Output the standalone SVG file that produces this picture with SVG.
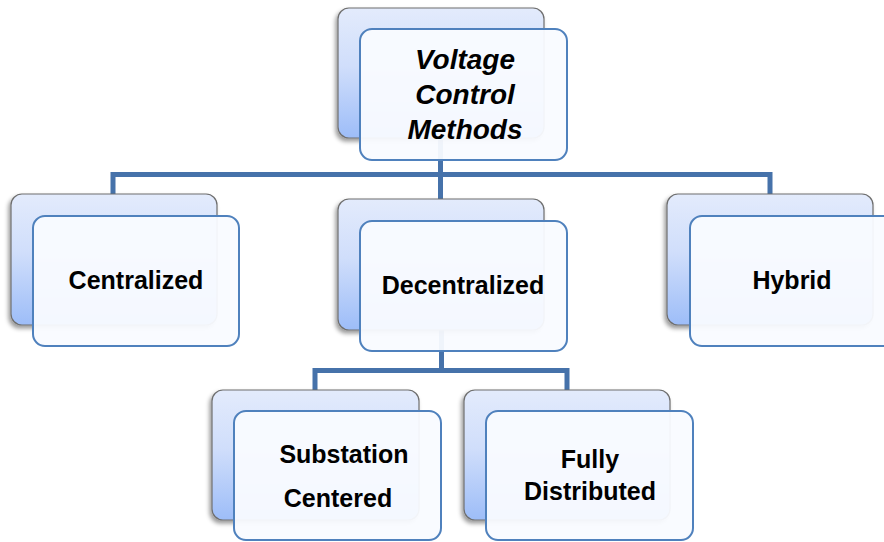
<svg xmlns="http://www.w3.org/2000/svg" width="884" height="542" viewBox="0 0 884 542">
  <defs>
    <linearGradient id="backFill" x1="0" y1="0" x2="0" y2="1">
      <stop offset="0" stop-color="#e3ebfc"/>
      <stop offset="0.45" stop-color="#d0defb"/>
      <stop offset="1" stop-color="#9dbdf8"/>
    </linearGradient>
    <filter id="shadow" x="-10%" y="-10%" width="120%" height="125%">
      <feDropShadow dx="-2" dy="3" stdDeviation="2" flood-color="#000" flood-opacity="0.4"/>
    </filter>
    <style>
      .back { fill: url(#backFill); stroke: #6e6e6e; stroke-width: 1.2; filter: url(#shadow); }
      .front { fill: #f9fbff; fill-opacity: 0.95; stroke: #4f81bd; stroke-width: 2; }
      .link { fill: none; stroke: #4672aa; stroke-width: 5; stroke-linejoin: miter; }
      .label { font-family: "Liberation Sans", Arial, sans-serif; font-weight: bold; font-size: 25px; fill: #000; text-anchor: middle; }
      .title { font-style: italic; font-size: 28px; }
    </style>
  </defs>

  <g id="connectors">
    <path class="link" d="M440.5,140 V199 M113,194 V174.5 H770 V194"/>
    <path class="link" d="M441.5,330 V370.5 M315,390 V370.5 H567 V390"/>
  </g>

  <g id="node-voltage-control-methods">
    <rect class="back" x="338" y="8" width="206" height="130" rx="11"/>
    <rect class="front" x="360" y="29" width="207" height="131" rx="12"/>
    <text class="label title" x="465" y="69">Voltage</text>
    <text class="label title" x="465" y="104">Control</text>
    <text class="label title" x="465" y="139">Methods</text>
  </g>

  <g id="node-centralized">
    <rect class="back" x="11" y="194" width="206" height="131" rx="11"/>
    <rect class="front" x="33" y="216" width="206" height="130" rx="12"/>
    <text class="label" x="136" y="289">Centralized</text>
  </g>

  <g id="node-decentralized">
    <rect class="back" x="338" y="199" width="206" height="131" rx="11"/>
    <rect class="front" x="360" y="221" width="207" height="130" rx="12"/>
    <text class="label" x="463" y="294">Decentralized</text>
  </g>

  <g id="node-hybrid">
    <rect class="back" x="667" y="194" width="206" height="131" rx="11"/>
    <rect class="front" x="690" y="216" width="207" height="130" rx="12"/>
    <text class="label" x="792" y="289">Hybrid</text>
  </g>

  <g id="node-substation-centered">
    <rect class="back" x="212" y="390" width="207" height="130" rx="11"/>
    <rect class="front" x="234" y="411" width="207" height="129" rx="12"/>
    <text class="label" x="344" y="463">Substation</text>
    <text class="label" x="338" y="507">Centered</text>
  </g>

  <g id="node-fully-distributed">
    <rect class="back" x="464" y="390" width="206" height="130" rx="11"/>
    <rect class="front" x="486" y="411" width="207" height="129" rx="12"/>
    <text class="label" x="590" y="468">Fully</text>
    <text class="label" x="590" y="500">Distributed</text>
  </g>
</svg>
